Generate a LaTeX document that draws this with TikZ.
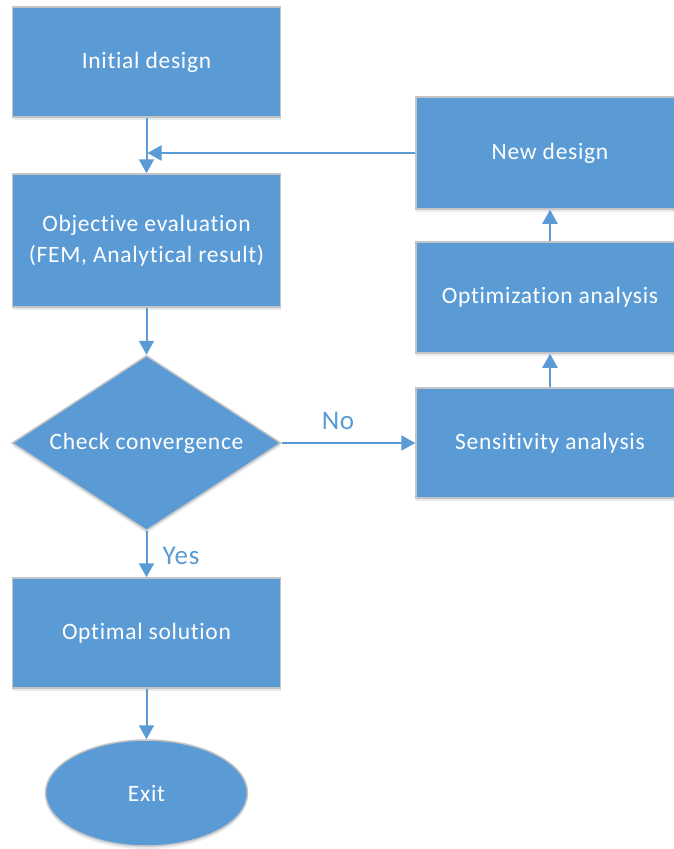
\documentclass[tikz,border=0pt]{standalone}
\usepackage{fontspec}
\setmainfont{Carlito}[Ligatures={NoCommon},LetterSpace=3]
\usetikzlibrary{shapes.geometric,arrows.meta,shadows}
\definecolor{boxblue}{HTML}{5B9BD5}
\definecolor{boxedge}{HTML}{C4C4C4}
\tikzset{
  shade/.style={drop shadow={opacity=0.12,shadow xshift=0pt,shadow yshift=-3pt,fill=boxblue!60!black}},
  flowbox/.style={rectangle,draw=boxedge,line width=1.5pt,fill=boxblue,text=white,
    minimum width=268pt,minimum height=110pt,inner sep=0pt,align=center,
    font=\fontsize{23.5}{31}\selectfont,shade},
  flowdiamond/.style={diamond,shape aspect=1.55,draw=boxedge,line width=1.5pt,fill=boxblue,text=white,
    minimum width=269pt,minimum height=175pt,inner sep=0pt,
    font=\fontsize{23.5}{31}\selectfont,shade},
  flowoval/.style={ellipse,draw=boxedge,line width=1.5pt,fill=boxblue,text=white,
    minimum width=202pt,minimum height=106pt,inner sep=0pt,
    font=\fontsize{23.5}{31}\selectfont,shade},
  link/.style={draw=boxblue,line width=2pt,-{Triangle[width=15pt,length=14pt]}},
  lbl/.style={text=boxblue,font=\fontsize{27}{30}\selectfont,inner sep=0pt}
}
\begin{document}
\begin{tikzpicture}[x=1pt,y=-1pt]
\useasboundingbox[fill=white] (0,0) rectangle (673,849);
\node[flowbox] (init) at (146.5,62) {Initial design};
\node[flowbox,minimum height=133pt] (obj) at (146.5,240.5) {Objective evaluation\\(FEM, Analytical result)};
\node[flowdiamond] (conv) at (146.5,443) {Check convergence};
\node[flowbox] (opt) at (146.5,633) {Optimal solution};
\node[flowoval] (exit) at (146.5,793) {Exit};
\node[flowbox,minimum height=112pt] (new) at (550,153) {New design};
\node[flowbox,minimum height=111pt] (optm) at (550,297.5) {Optimization analysis};
\node[flowbox] (sens) at (550,443) {Sensitivity analysis};
\coordinate (join) at (init.south |- new.west);
\draw[link] (init) -- (obj);
\draw[link] (new.west) -- ([xshift=1pt]join);
\draw[link] (obj) -- (conv);
\draw[link] (conv) -- (opt);
\draw[link] (opt) -- (exit);
\draw[link] (conv.east) -- (sens.west);
\draw[link] (sens) -- (optm);
\draw[link] (optm) -- (new);
\node[lbl] at (338,421) {No};
\node[lbl] at (181,556) {Yes};
\end{tikzpicture}
\end{document}
